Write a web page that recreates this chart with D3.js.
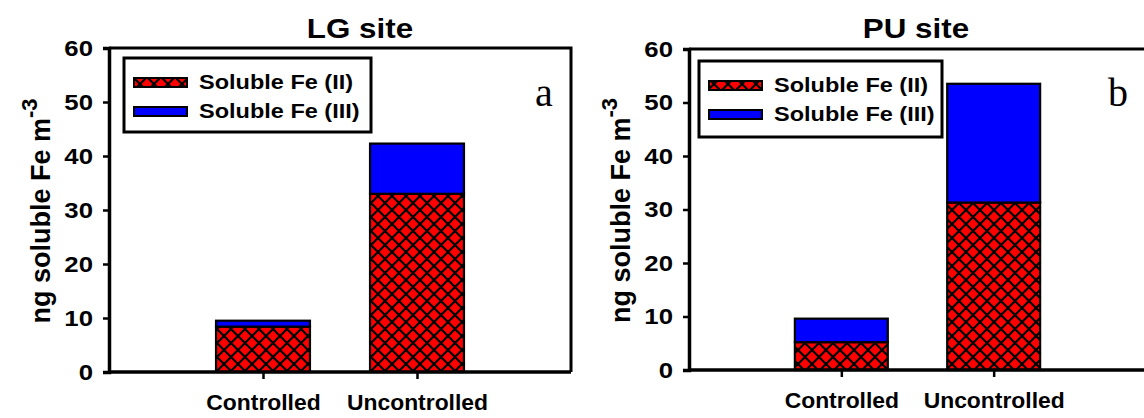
<!DOCTYPE html>
<html><head><meta charset="utf-8">
<script src="https://cdn.jsdelivr.net/npm/d3@7"></script>
<style>
body{margin:0;background:#fff;}
text{font-family:"Liberation Sans",Arial,sans-serif;font-weight:bold;fill:#000;}
</style></head>
<body><svg id="c" width="1144" height="418"></svg>
<script>
const categories = ["Controlled", "Uncontrolled"];
const seriesNames = ["Soluble Fe (II)", "Soluble Fe (III)"];
const lgFe2 = [8.4, 33.0];
const lgFe3 = [1.1, 9.3];
const puFe2 = [5.2, 31.3];
const puFe3 = [4.4, 22.2];
const yTicks = [0, 10, 20, 30, 40, 50, 60];

const SX = 1.12; // horizontal stretch of the reference lettering

const svg = d3.select("#c");
const defs = svg.append("defs");
const pat = defs.append("pattern").attr("id","hatch").attr("patternUnits","userSpaceOnUse")
  .attr("width",14).attr("height",14);
pat.append("rect").attr("width",14).attr("height",14).attr("fill","#ff0000");
pat.append("path").attr("d","M-1,-1 L15,15 M-1,15 L15,-1 M-8,6 L8,22 M6,-8 L22,8 M6,22 L22,6 M-8,8 L8,-8")
  .attr("stroke","#000").attr("stroke-width",2.2);

const panels = [
  {title:"LG site", letter:"a", fe2:lgFe2, fe3:lgFe3, x0:109, x1:571, y0:372, y1:48, ylab:40, titleX:360, letterX:544,
   leg:{x:124,y:58,w:247,h:74}},
  {title:"PU site", letter:"b", fe2:puFe2, fe3:puFe3, x0:689, x1:1146, y0:370, y1:49, ylab:620, titleX:916, letterX:1118,
   leg:{x:699,y:61,w:243,h:76}}
];

function stretchText(sel, x, y, anchor) {
  sel.attr("x", x / SX).attr("y", y).attr("text-anchor", anchor).attr("transform", `scale(${SX},1)`);
}

panels.forEach(p => {
  const g = svg.append("g");
  const x = d3.scalePoint().domain(categories).range([p.x0, p.x1]).padding(1);
  const y = d3.scaleLinear().domain([0, 60]).range([p.y0, p.y1]);
  const bw = x.step() * 0.61;

  // frame
  g.append("path").attr("d", `M${p.x0},${y(60)} H${p.x1} V${y(0)}`).attr("fill","none")
    .attr("stroke","#000").attr("stroke-width",3);

  // bars
  categories.forEach((c,i) => {
    const a = p.fe2[i], b = p.fe3[i];
    g.append("rect").attr("x", x(c)-bw/2).attr("y", y(a)).attr("width", bw).attr("height", y(0)-y(a))
      .attr("fill","url(#hatch)").attr("stroke","#000").attr("stroke-width",2.2);
    g.append("rect").attr("x", x(c)-bw/2).attr("y", y(a+b)).attr("width", bw).attr("height", y(a)-y(a+b))
      .attr("fill","#0000ff").attr("stroke","#000").attr("stroke-width",2.2);
  });

  // axes
  const ya = g.append("g").attr("transform",`translate(${p.x0},0)`)
    .call(d3.axisLeft(y).tickValues(yTicks).tickSize(6).tickPadding(10));
  ya.select(".domain").attr("stroke-width",3.5);
  ya.selectAll(".tick line").attr("stroke-width",2.5);
  ya.selectAll(".tick text").attr("font-size",23).attr("font-family","Liberation Sans, Arial, sans-serif")
    .attr("font-weight","bold").attr("x", -16 / SX).attr("transform", `scale(${SX},1)`);

  const xa = g.append("g").attr("transform",`translate(0,${p.y0})`)
    .call(d3.axisBottom(x).tickSize(7).tickPadding(15));
  xa.select(".domain").attr("stroke-width",3.5).attr("d",`M${p.x0},0H${p.x1}`);
  xa.selectAll(".tick line").attr("stroke-width",2.5);
  xa.selectAll(".tick text").attr("font-size",22).attr("font-family","Liberation Sans, Arial, sans-serif")
    .attr("font-weight","bold").attr("transform", `scale(1.04,1)`);

  // title
  g.append("text").attr("font-size",28).text(p.title).call(stretchText, p.titleX, 38, "middle");

  // y label
  const yl = g.append("text").attr("transform",`translate(${p.ylab+10},${(p.y0+p.y1)/2+1}) rotate(-90)`)
    .attr("text-anchor","middle").attr("font-size",27);
  yl.append("tspan").text("ng soluble Fe m");
  yl.append("tspan").attr("dy",-13).attr("font-size",22).text("-3");

  // letter
  g.append("text").attr("x",p.letterX).attr("y",106).attr("text-anchor","middle")
    .style("font-family","'Liberation Serif','Times New Roman',serif").style("font-weight","normal")
    .attr("font-size",40).text(p.letter);

  // legend
  const L = p.leg;
  const lg = g.append("g");
  lg.append("rect").attr("x",L.x).attr("y",L.y).attr("width",L.w).attr("height",L.h)
    .attr("fill","#fff").attr("stroke","#000").attr("stroke-width",3);
  const fills = ["url(#hatch)","#0000ff"];
  seriesNames.forEach((s,i) => {
    const cy = L.y + 24 + i*29;
    lg.append("rect").attr("x",L.x+10).attr("y",cy-4).attr("width",53).attr("height",9)
      .attr("fill",fills[i]).attr("stroke","#000").attr("stroke-width",2);
    lg.append("text").attr("font-size",21).text(s).call(stretchText, L.x+75, cy+7.5, "start");
  });
});
</script></body></html>
